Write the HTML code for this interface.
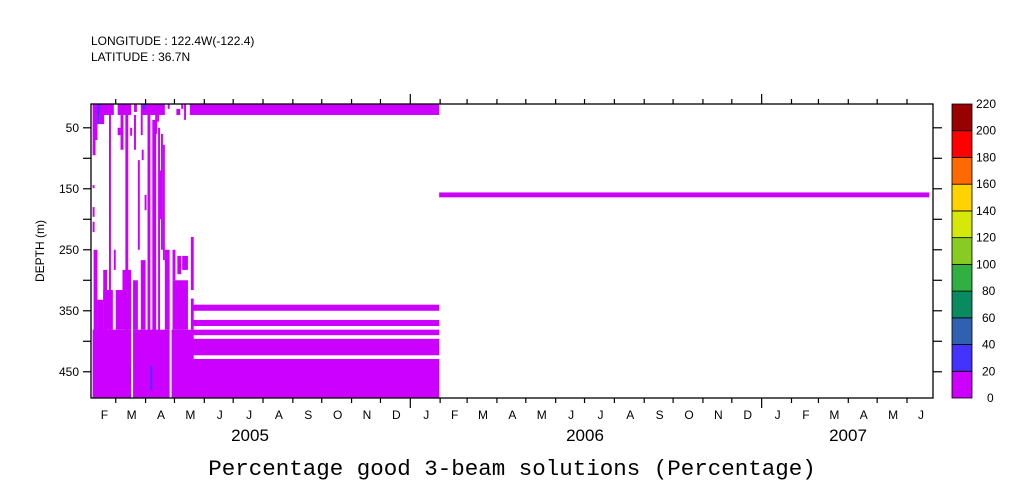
<!DOCTYPE html>
<html><head><meta charset="utf-8">
<style>
body{margin:0;background:#fff;}
svg{display:block;font-family:"Liberation Sans",sans-serif;}
</style></head>
<body>
<svg id="chart" width="1009" height="504" viewBox="0 0 1009 504" xmlns="http://www.w3.org/2000/svg">
<text x="91" y="45" font-size="12">LONGITUDE : 122.4W(-122.4)</text>
<text x="91" y="61" font-size="12">LATITUDE : 36.7N</text>
<text x="512" y="475" font-size="22.5" text-anchor="middle" font-family="Liberation Mono, monospace">Percentage good 3-beam solutions (Percentage)</text>
<text transform="translate(44,251) rotate(-90)" font-size="12" text-anchor="middle">DEPTH (m)</text>
<g id="marks"></g>
<g id="axes"></g>
<g id="cbar"></g>
</svg>
<script>
// Segments: start day, end day (days since 2005-01-01), top depth, bottom depth (m), value (%)
const segStart = [35,61,78,85,113,122,127,130,136, 35,37,42,35,35,35,36,40,46, 52,69,92,97,103,106, 61,64,74,78,82,85,86,89,108, 46,59,66,77,85,110,118,118,123,128,137,137, 57,100,102,104, 138,138,138,138,138, 395, 40,87,73,95];
const segEnd   = [57,75,81,110,115,126,129,132,395, 38,40,47,37,37,37,40,46,50, 54,72,95,101,105,108, 64,67,76,80,84,87,88,91,110, 56,66,75,82,90,115,134,121,127,134,140,140, 59,102,104,106, 395,395,395,395,395, 904, 42,90,74,97];
const segTop   = [11,11,11,11,11,19,11,11,11, 29,29,29,144,180,204,250,332,283, 11,11,11,37,50,60, 50,29,50,29,103,29,86,160,78, 316,316,283,300,267,250,300,250,260,260,229,330, 250,11,20,120, 340,365,381,396,429, 156, 11,11,440,440];
const segBot   = [29,29,24,29,19,29,19,37,29, 95,70,44,149,196,221,493,493,493, 493,493,493,493,493,250, 62,86,63,86,250,62,103,185,267, 381,381,381,381,381,381,381,300,290,283,316,381, 283,60,40,200, 350,375,390,423,493, 164, 44,19,470,480];
const segVal   = [10,10,10,10,10,10,10,10,10, 10,10,10,10,10,10,10,10,10, 10,10,10,10,10,10, 10,10,10,10,10,10,10,10,10, 10,10,10,10,10,10,10,10,10,10,10,10, 10,10,10,10, 10,10,10,10,10, 10, 30,30,30,30];
// bottom fill blocks (deep layer 381-493)
const fillStart = [35,77,117];
const fillEnd   = [75,115,140];
const fillTop   = [381,381,381];
const fillBot   = [493,493,493];
const levels = [0,20,40,60,80,100,120,140,160,180,200,220];
const levelColors = ["#cc00ff","#4433ff","#3060b0","#0a8a60","#30b040","#88cc22","#d4e80a","#ffd200","#ff6a00","#ff0000","#990000"];
const monthLabels = ["J","F","M","A","M","J","J","A","S","O","N","D"];
const yearLabels = ["2005","2006","2007"];
const depthTicks = [50,100,150,200,250,300,350,400,450];
const depthLabels = [50,150,250,350,450];

const PL=91, PR=933, PT=104, PB=398;
const D0=33.3, D1=908, Z0=11, Z1=493;
function xS(d){return PL+(d-D0)/(D1-D0)*(PR-PL);}
function yS(z){return PT+(z-Z0)/(Z1-Z0)*(PB-PT);}
function color(v){for(let i=0;i<levelColors.length;i++){if(v<levels[i+1])return levelColors[i];}return levelColors[levelColors.length-1];}
const NS="http://www.w3.org/2000/svg";
function mk(tag,attrs,parent){const e=document.createElementNS(NS,tag);for(const k in attrs)e.setAttribute(k,attrs[k]);parent.appendChild(e);return e;}

const marks=document.getElementById('marks');
for(let i=0;i<fillStart.length;i++){
  const r=mk('rect',{x:xS(fillStart[i]),y:yS(fillTop[i]),width:xS(fillEnd[i])-xS(fillStart[i]),height:yS(fillBot[i])-yS(fillTop[i]),fill:color(10)},marks);
  
  
}
for(let i=0;i<segStart.length;i++){
  const r=mk('rect',{x:xS(segStart[i]),y:yS(segTop[i]),width:Math.max(1,xS(segEnd[i])-xS(segStart[i])),height:yS(segBot[i])-yS(segTop[i]),fill:color(segVal[i])},marks);
  
  
}

const axes=document.getElementById('axes');
const frame=mk('rect',{x:PL,y:PT,width:PR-PL,height:PB-PT,fill:'none',stroke:'#000','stroke-width':1.3},axes);


depthTicks.forEach(z=>{
  const y=yS(z);
  mk('line',{x1:PL-8,y1:y,x2:PL,y2:y,stroke:'#000','stroke-width':1.2},axes);
  mk('line',{x1:PR,y1:y,x2:PR+9,y2:y,stroke:'#000','stroke-width':1.2},axes);
});
depthLabels.forEach(z=>{
  const t=mk('text',{x:PL-12,y:yS(z)+4,'font-size':12,'text-anchor':'end'},axes);
  t.textContent=z;
  
  
});
function dayOf(y,m){return (Date.UTC(y,m,1)-Date.UTC(2005,0,1))/86400000;}
for(let y=2005;y<=2007;y++){
  for(let m=0;m<12;m++){
    const s=dayOf(y,m), e=dayOf(m==11?y+1:y,(m+1)%12);
    if(e<=D0||s>=D1)continue;
    if(s>D0){
      const x=xS(s), tall=(m==0);
      mk('line',{x1:x,y1:PB,x2:x,y2:PB+(tall?10:5),stroke:'#000','stroke-width':1.2},axes);
      mk('line',{x1:x,y1:PT,x2:x,y2:PT-(tall?10:5),stroke:'#000','stroke-width':1.2},axes);
    }
    const cx=(xS(Math.max(s,D0))+xS(Math.min(e,D1)))/2+1;
    const t=mk('text',{x:cx,y:419,'font-size':12,'text-anchor':'middle'},axes);
    t.textContent=monthLabels[m];
    
    
  }
}
const yearX=[250,585,848];
yearLabels.forEach((yl,i)=>{
  const t=mk('text',{x:yearX[i],y:441,'font-size':17,'text-anchor':'middle'},axes);
  t.textContent=yl;
  
  
});

const cb=document.getElementById('cbar');
const CBT=104, CBB=398, CBX=952, CBW=20;
function cbY(v){return CBB-(v-levels[0])/(levels[levels.length-1]-levels[0])*(CBB-CBT);}
for(let i=0;i<levelColors.length;i++){
  const r=mk('rect',{x:CBX,y:cbY(levels[i+1]),width:CBW,height:cbY(levels[i])-cbY(levels[i+1]),fill:levelColors[i],stroke:'#000','stroke-width':0.8},cb);
  
  
}
levels.forEach(v=>{
  const t=mk('text',{x:v<100?(v<10?987:982):976,y:cbY(v)+4,'font-size':12},cb);
  t.textContent=v;
  
  
});
</script>
</body></html>
